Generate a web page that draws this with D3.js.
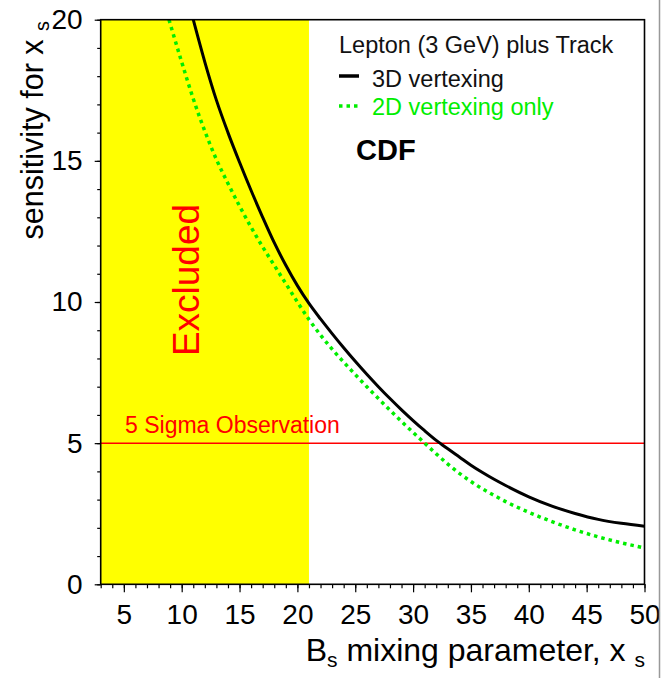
<!DOCTYPE html>
<html>
<head>
<meta charset="utf-8">
<script src="https://cdn.jsdelivr.net/npm/d3@7"></script>
<style>
  body { margin: 0; background: #fff; }
  text { font-family: "Liberation Sans", Arial, Helvetica, sans-serif; }
</style>
</head>
<body>
<svg id="chart" width="664" height="678"></svg>
<script>
// values
const xs3D   = [11, 12, 13, 14, 15, 16, 17, 18, 19, 20, 21, 22, 23, 24, 25, 26, 27, 28, 29, 30,
                31, 32, 33, 34, 35, 36, 37, 38, 40, 42, 44, 46, 48, 50];
const sens3D = [20.0, 18.5, 17.15, 16.0, 14.95, 13.95, 13.0, 12.1, 11.3, 10.58, 9.95, 9.4, 8.88, 8.38,
                7.9, 7.44, 7.0, 6.58, 6.18, 5.8, 5.44, 5.1, 4.8, 4.51, 4.22, 3.96, 3.72, 3.5, 3.1,
                2.77, 2.51, 2.3, 2.16, 2.06];
const xs2D   = [8.9, 10, 11, 12, 13, 14, 15, 16, 17, 18, 19, 20, 21, 22, 23, 24, 25, 26, 27, 28, 29,
                30, 31, 32, 33, 34, 35, 36, 37, 38, 40, 42, 44, 46, 48, 50];
const sens2D = [20.0, 18.5, 17.2, 16.05, 15.05, 14.2, 13.4, 12.65, 11.95, 11.3, 10.65, 10.0, 9.38,
                8.83, 8.33, 7.87, 7.43, 7.0, 6.58, 6.17, 5.77, 5.38, 5.0, 4.62, 4.26, 3.93, 3.64,
                3.38, 3.15, 2.93, 2.55, 2.22, 1.93, 1.68, 1.47, 1.29];
const excludedRange = [3, 21];
const sigmaLevel = 5;
const xTicks = [5, 10, 15, 20, 25, 30, 35, 40, 45, 50];
const yTicks = [0, 5, 10, 15, 20];
const legendTitle = 'Lepton (3 GeV) plus Track';
const legendLabels = ['3D vertexing', '2D vertexing only'];

const svg = d3.select('#chart');
const mLeft = 100.7, mRight = 644.5, mTop = 19.7, mBottom = 584.3;

const x = d3.scaleLinear().domain([3, 50]).range([mLeft, mRight]);
const y = d3.scaleLinear().domain([0, 20]).range([mBottom, mTop]);

svg.append('defs').append('clipPath').attr('id', 'clip')
  .append('rect')
  .attr('x', mLeft).attr('y', mTop)
  .attr('width', mRight - mLeft).attr('height', mBottom - mTop);

const plot = svg.append('g').attr('clip-path', 'url(#clip)');

// excluded band
plot.append('rect')
  .attr('x', x(excludedRange[0]))
  .attr('y', mTop)
  .attr('width', x(excludedRange[1]) - x(excludedRange[0]))
  .attr('height', mBottom - mTop)
  .attr('fill', '#ffff00');

// 5 sigma line
plot.append('line')
  .attr('x1', mLeft).attr('x2', mRight)
  .attr('y1', y(sigmaLevel)).attr('y2', y(sigmaLevel))
  .attr('stroke', '#ff0000').attr('stroke-width', 1.5);

const line = d3.line()
  .x(d => x(d[0]))
  .y(d => y(d[1]))
  .curve(d3.curveMonotoneX);

plot.append('path')
  .datum(d3.zip(xs2D, sens2D))
  .attr('d', line)
  .attr('fill', 'none')
  .attr('stroke', '#00ee00')
  .attr('stroke-width', 3.5)
  .attr('stroke-dasharray', '3.5,4');

plot.append('path')
  .datum(d3.zip(xs3D, sens3D))
  .attr('d', line)
  .attr('fill', 'none')
  .attr('stroke', '#000')
  .attr('stroke-width', 3);

// axes: minor then major ticks
const xMinor = svg.append('g').attr('transform', `translate(0,${mBottom})`)
  .call(d3.axisBottom(x).tickValues(d3.range(3, 51)).tickSize(4).tickFormat(''));
const xMajor = svg.append('g').attr('transform', `translate(0,${mBottom})`)
  .call(d3.axisBottom(x).tickValues(xTicks).tickSize(8).tickPadding(12));
const yMinor = svg.append('g').attr('transform', `translate(${mLeft},0)`)
  .call(d3.axisLeft(y).tickValues(d3.range(0, 21)).tickSize(3.5).tickFormat(''));
const yMajor = svg.append('g').attr('transform', `translate(${mLeft},0)`)
  .call(d3.axisLeft(y).tickValues(yTicks).tickSize(6).tickPadding(12));

[xMinor, xMajor, yMinor, yMajor].forEach(g => {
  g.select('.domain').remove();
  g.selectAll('line').attr('stroke', '#000').attr('stroke-width', 1.2);
});
xMajor.selectAll('text').attr('font-size', 28).attr('fill', '#000')
  .attr('font-family', '"Liberation Sans", Arial, sans-serif');
yMajor.selectAll('text').attr('font-size', 28).attr('fill', '#000')
  .attr('font-family', '"Liberation Sans", Arial, sans-serif');

// frame
svg.append('rect')
  .attr('x', mLeft).attr('y', mTop)
  .attr('width', mRight - mLeft).attr('height', mBottom - mTop)
  .attr('fill', 'none').attr('stroke', '#000').attr('stroke-width', 1.6);

// image edge line on the right
svg.append('line')
  .attr('x1', 659.5).attr('x2', 659.5).attr('y1', 0).attr('y2', 678)
  .attr('stroke', '#999').attr('stroke-width', 1.5);

// axis titles
const xTitle = svg.append('text')
  .attr('x', 645).attr('y', 661)
  .attr('text-anchor', 'end')
  .attr('font-size', 32);
xTitle.append('tspan').text('B');
xTitle.append('tspan').attr('font-size', 21).attr('dy', 6).text('s');
xTitle.append('tspan').attr('dy', -6).text(' mixing parameter, x ');
xTitle.append('tspan').attr('font-size', 21).attr('dy', 6).text('s');

const yTitle = svg.append('text')
  .attr('transform', 'translate(43,21) rotate(-90)')
  .attr('text-anchor', 'end')
  .attr('font-size', 30.5);
yTitle.append('tspan').text('sensitivity for x ');
yTitle.append('tspan').attr('font-size', 20).attr('dy', 6).text('s');

// annotations
svg.append('text')
  .attr('transform', `translate(199,${(205 + 355) / 2}) rotate(-90)`)
  .attr('text-anchor', 'middle')
  .attr('font-size', 37)
  .attr('fill', '#ff0000')
  .text('Excluded');

svg.append('text')
  .attr('x', 125).attr('y', 432.5)
  .attr('font-size', 23)
  .attr('fill', '#ff0000')
  .text('5 Sigma Observation');

// legend
svg.append('text')
  .attr('x', 339).attr('y', 52.5)
  .attr('font-size', 23.5)
  .attr('fill', '#111')
  .text(legendTitle);

svg.append('line')
  .attr('x1', 339).attr('x2', 359).attr('y1', 76).attr('y2', 76)
  .attr('stroke', '#000').attr('stroke-width', 3.5);
svg.append('text')
  .attr('x', 372).attr('y', 87)
  .attr('font-size', 23.5)
  .attr('fill', '#111')
  .text(legendLabels[0]);

svg.append('line')
  .attr('x1', 339).attr('x2', 360).attr('y1', 106).attr('y2', 106)
  .attr('stroke', '#00ee00').attr('stroke-width', 3.5)
  .attr('stroke-dasharray', '3.5,4');
svg.append('text')
  .attr('x', 372).attr('y', 115)
  .attr('font-size', 23.5)
  .attr('fill', '#00ee00')
  .text(legendLabels[1]);

svg.append('text')
  .attr('x', 356).attr('y', 159.5)
  .attr('font-size', 29)
  .attr('font-weight', 'bold')
  .attr('fill', '#000')
  .text('CDF');
</script>
</body>
</html>
